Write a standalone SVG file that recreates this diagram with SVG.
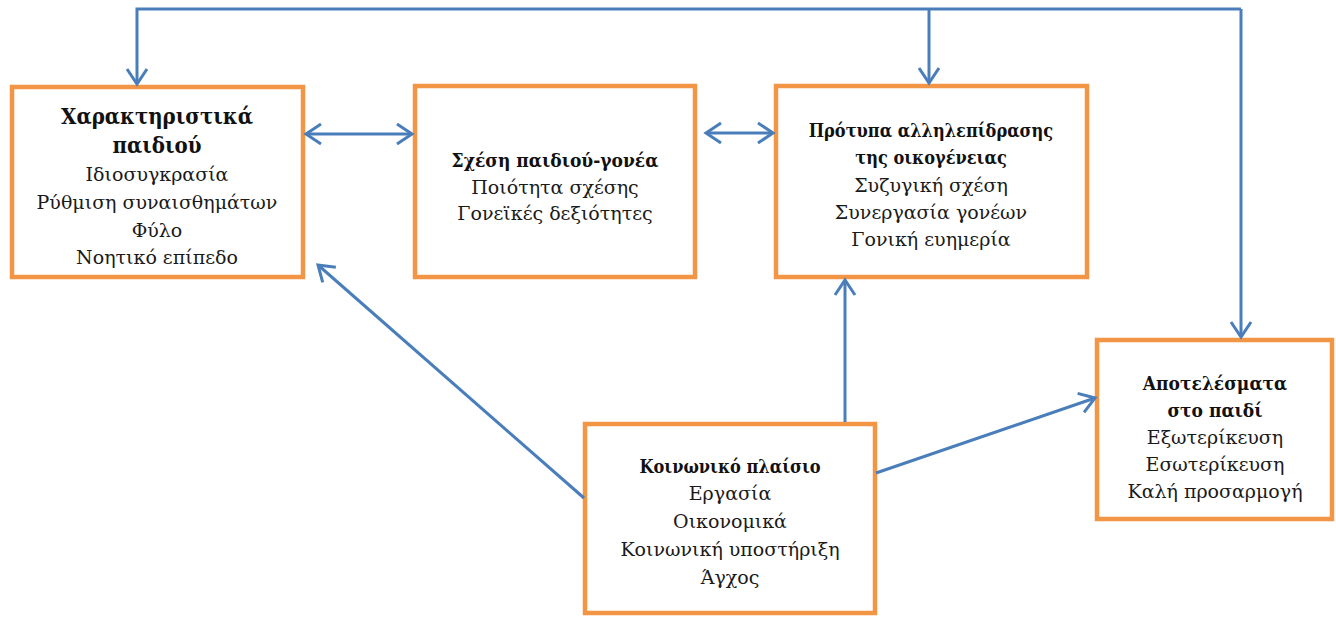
<svg xmlns="http://www.w3.org/2000/svg" width="1336" height="617" viewBox="0 0 1336 617">
<style>
.box{fill:#fff;stroke:#F29544;stroke-width:4.5}
.t{font-family:"DejaVu Serif","Liberation Serif",serif;font-size:19px;fill:#1a1a1a;text-anchor:middle}
.b{font-family:"DejaVu Serif Condensed","DejaVu Serif",serif;font-weight:bold;font-size:18px;fill:#111}
.b1{font-size:22px}
.b2{font-size:19px}
.c{fill:none;stroke:#4A7EBB;stroke-width:3}
</style>
<defs>
<marker id="ah" markerUnits="userSpaceOnUse" viewBox="-20 -12 24 24" refX="0" refY="0" markerWidth="24" markerHeight="24" orient="auto-start-reverse">
<path d="M-15,-10 L0,0 L-15,10" fill="none" stroke="#4A7EBB" stroke-width="3"/>
</marker>
</defs>
<rect width="1336" height="617" fill="#fff"/>
<g id="n1">
<rect class="box" x="12" y="87" width="291" height="190"/>
<text class="t b b1" x="157" y="124">Χαρακτηριστικά</text>
<text class="t b b1" x="157" y="153">παιδιού</text>
<text class="t" x="157" y="181">Ιδιοσυγκρασία</text>
<text class="t" x="157" y="209">Ρύθμιση συναισθημάτων</text>
<text class="t" x="157" y="237">Φύλο</text>
<text class="t" x="157" y="264">Νοητικό επίπεδο</text>
</g>
<g id="n2">
<rect class="box" x="415" y="86" width="280" height="191"/>
<text class="t b b2" x="555" y="167">Σχέση παιδιού-γονέα</text>
<text class="t" x="555" y="194">Ποιότητα σχέσης</text>
<text class="t" x="555" y="220">Γονεϊκές δεξιότητες</text>
</g>
<g id="n3">
<rect class="box" x="776" y="86" width="311" height="191"/>
<text class="t b" x="931" y="137">Πρότυπα αλληλεπίδρασης</text>
<text class="t b" x="931" y="164">της οικογένειας</text>
<text class="t" x="931" y="192">Συζυγική σχέση</text>
<text class="t" x="931" y="219">Συνεργασία γονέων</text>
<text class="t" x="931" y="246">Γονική ευημερία</text>
</g>
<g id="n4">
<rect class="box" x="585" y="424" width="290" height="189"/>
<text class="t b" x="730" y="473">Κοινωνικό πλαίσιο</text>
<text class="t" x="730" y="500">Εργασία</text>
<text class="t" x="730" y="528">Οικονομικά</text>
<text class="t" x="730" y="556">Κοινωνική υποστήριξη</text>
<text class="t" x="730" y="584">Άγχος</text>
</g>
<g id="n5">
<rect class="box" x="1097" y="340" width="235" height="179"/>
<text class="t b b2" x="1215" y="390">Αποτελέσματα</text>
<text class="t b b2" x="1215" y="417">στο παιδί</text>
<text class="t" x="1215" y="444">Εξωτερίκευση</text>
<text class="t" x="1215" y="471">Εσωτερίκευση</text>
<text class="t" x="1215" y="498">Καλή προσαρμογή</text>
</g>
<g id="connectors">
<path class="c" d="M1241,9 L137,9 L137,84" marker-end="url(#ah)"/>
<path class="c" d="M929,9 L929,83" marker-end="url(#ah)"/>
<path class="c" d="M1241,9 L1241,337" marker-end="url(#ah)"/>
<path class="c" d="M306,134 L412,134" marker-start="url(#ah)" marker-end="url(#ah)"/>
<path class="c" d="M706,133 L773,133" marker-start="url(#ah)" marker-end="url(#ah)"/>
<path class="c" d="M845,422 L845,280" marker-end="url(#ah)"/>
<path class="c" d="M584,498 L318,265" marker-end="url(#ah)"/>
<path class="c" d="M876,473 L1095,398" marker-end="url(#ah)"/>
</g>
</svg>
